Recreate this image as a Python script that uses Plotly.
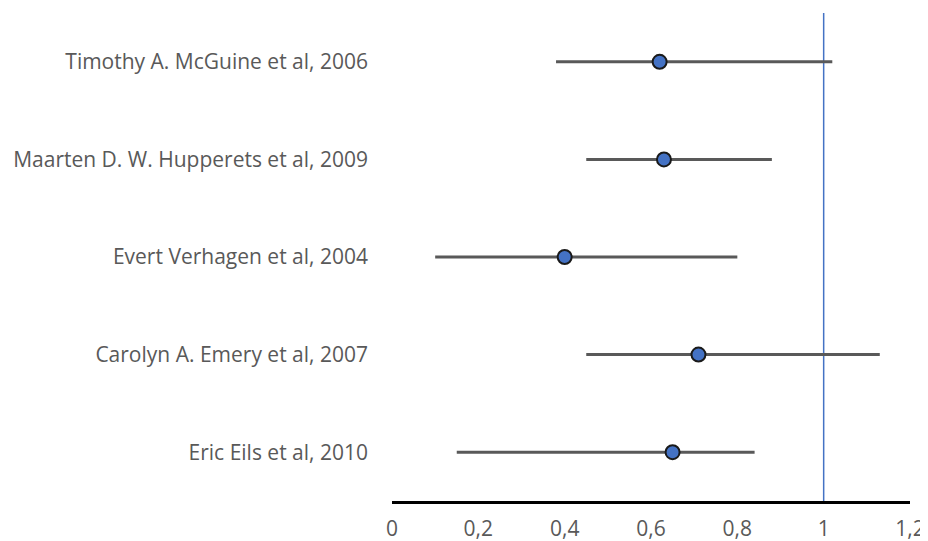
import plotly.graph_objects as go

studies = [
    "Timothy A. McGuine et al, 2006",
    "Maarten D. W. Hupperets et al, 2009",
    "Evert Verhagen et al, 2004",
    "Carolyn A. Emery et al, 2007",
    "Eric Eils et al, 2010",
]
estimate = [0.62, 0.63, 0.40, 0.71, 0.65]
lower = [0.38, 0.45, 0.10, 0.45, 0.15]
upper = [1.02, 0.88, 0.80, 1.13, 0.84]
row_pos = [4.5, 3.5, 2.5, 1.5, 0.5]
ref_value = 1.0
y_span = [0, 5]
x_ticks = [0, 0.2, 0.4, 0.6, 0.8, 1.0, 1.2]
x_tick_text = ["0", "0,2", "0,4", "0,6", "0,8", "1", "1,2"]

fig = go.Figure()

fig.add_trace(go.Scatter(
    x=[ref_value, ref_value], y=y_span, mode="lines",
    line=dict(color="#4472C4", width=1.5), hoverinfo="skip", showlegend=False,
))

fig.add_trace(go.Scatter(
    x=estimate, y=row_pos, mode="markers",
    marker=dict(size=14, color="#4472C4", line=dict(color="#1a1a1a", width=2)),
    error_x=dict(
        type="data", symmetric=False,
        array=[u - e for u, e in zip(upper, estimate)],
        arrayminus=[e - l for e, l in zip(estimate, lower)],
        color="#595959", thickness=3, width=0,
    ),
    showlegend=False,
))

fig.update_layout(
    width=928, height=541,
    margin=dict(l=384, r=26, t=5, b=48),
    paper_bgcolor="white", plot_bgcolor="white",
    font=dict(family="Open Sans, Lato, sans-serif", size=21, color="#595959"),
    xaxis=dict(
        range=[0, 1.2], tickvals=x_ticks, ticktext=x_tick_text,
        showgrid=False, zeroline=False, showline=True, linecolor="black", linewidth=3,
        ticks="", ticklabelstandoff=7,
    ),
    yaxis=dict(
        range=[0, 5], tickvals=row_pos, ticktext=studies,
        showgrid=False, zeroline=False, showline=False, ticks="",
        ticklabelstandoff=23,
    ),
)

fig.write_html("out.html")
